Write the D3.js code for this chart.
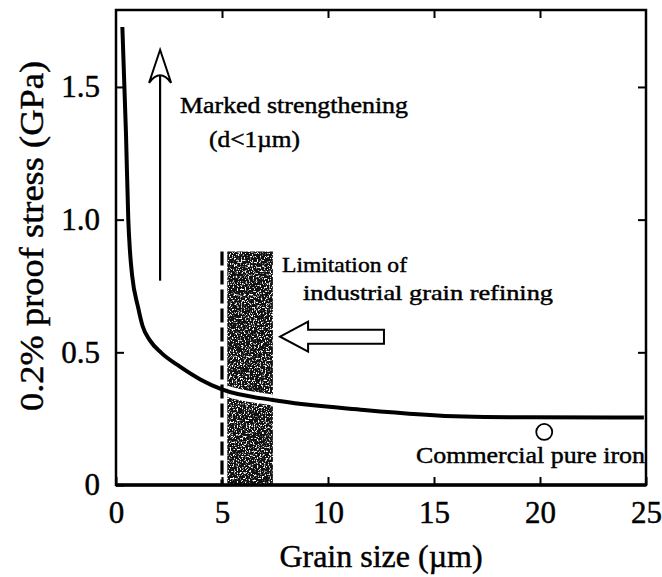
<!DOCTYPE html>
<html>
<head>
<meta charset="utf-8">
<script src="https://cdn.jsdelivr.net/npm/d3@7"></script>
<style>
  html, body { margin: 0; padding: 0; background: #fff; }
  svg { display: block; }
  svg text { font-family: "Liberation Serif", "Times New Roman", Times, serif; fill: #000; stroke: #000; stroke-width: 0.45px; }
</style>
</head>
<body>
<svg id="chart" width="662" height="577"></svg>
<script>
// Hall–Petch style curve: grain size (µm) vs 0.2% proof stress (GPa)
const grainSize = [0.30, 0.47, 0.58, 0.66, 0.76, 1.04, 1.25, 1.6, 2.15, 3.0, 4.0, 5.0, 7.4, 11.7, 16.4, 19.5, 24.9];
const proofStress = [1.726, 1.327, 1.0, 0.88, 0.79, 0.67, 0.60, 0.545, 0.497, 0.447, 0.397, 0.36, 0.32, 0.283, 0.258, 0.255, 0.254];

// Commercial pure iron data point
const ironPoint = [20.2, 0.20];

// Industrial grain refining limit
const limitSize = 5.0;
const refineBand = [5.25, 7.4];
const refineTop = 0.88;

// Axis ticks
const xTicks = [0, 5, 10, 15, 20, 25];
const yTicks = [0, 0.5, 1.0, 1.5];
const yTickLabels = ["0", "0.5", "1.0", "1.5"];

// Annotation arrows (data coordinates)
const upArrow = { d: 2.08, from: 0.77, to: 1.64 };
const leftArrow = { tip: 7.74, tail: 12.64, level: 0.559 };

const svg = d3.select("#chart");
const x = d3.scaleLinear().domain([0, 25]).range([116, 646]);
const y = d3.scaleLinear().domain([0, 1.79]).range([485, 10]);

const defs = svg.append("defs");
const speckle = defs.append("filter")
  .attr("id", "speckle")
  .attr("x", 0).attr("y", 0).attr("width", 1).attr("height", 1)
  .attr("color-interpolation-filters", "sRGB");
speckle.append("feFlood").attr("flood-color", "#101010").attr("result", "bg");
speckle.append("feTurbulence")
  .attr("type", "fractalNoise").attr("baseFrequency", "0.75 0.55")
  .attr("numOctaves", 2).attr("seed", 5).attr("result", "noise");
speckle.append("feColorMatrix").attr("in", "noise").attr("type", "matrix")
  .attr("values", "0 0 0 0 1  0 0 0 0 1  0 0 0 0 1  7 0 0 0 -3.75")
  .attr("result", "specks");
const merge = speckle.append("feMerge").attr("result", "mix");
merge.append("feMergeNode").attr("in", "bg");
merge.append("feMergeNode").attr("in", "specks");
speckle.append("feComposite").attr("in", "mix").attr("in2", "SourceAlpha").attr("operator", "in");

defs.append("clipPath").attr("id", "bandClip")
  .append("rect")
  .attr("x", x(refineBand[0])).attr("y", y(refineTop))
  .attr("width", x(refineBand[1]) - x(refineBand[0]))
  .attr("height", y(0) - y(refineTop));

// Speckled band
svg.append("rect")
  .attr("x", x(refineBand[0])).attr("y", y(refineTop))
  .attr("width", x(refineBand[1]) - x(refineBand[0]))
  .attr("height", y(0) - y(refineTop))
  .attr("fill", "#000")
  .attr("filter", "url(#speckle)");

// Dashed limit line
svg.append("line")
  .attr("x1", x(limitSize)).attr("x2", x(limitSize))
  .attr("y1", y(refineTop)).attr("y2", y(0))
  .attr("stroke", "#000").attr("stroke-width", 3.2)
  .attr("stroke-dasharray", "14,5");

// Curve
const pts = grainSize.map((d, i) => [d, proofStress[i]]);
const line = d3.line().x(d => x(d[0])).y(d => y(d[1])).curve(d3.curveMonotoneX);
svg.append("path").datum(pts)
  .attr("d", line).attr("fill", "none")
  .attr("stroke", "#fff").attr("stroke-width", 11)
  .attr("clip-path", "url(#bandClip)");
svg.append("path").datum(pts)
  .attr("d", line).attr("fill", "none")
  .attr("stroke", "#000").attr("stroke-width", 4)
  .attr("stroke-linejoin", "round");

// Commercial pure iron marker
svg.append("circle")
  .attr("cx", x(ironPoint[0])).attr("cy", y(ironPoint[1])).attr("r", 8)
  .attr("fill", "#fff").attr("stroke", "#000").attr("stroke-width", 1.8);

// Upward open arrow
const ax = x(upArrow.d), aTop = y(upArrow.to), aBot = y(upArrow.from);
svg.append("line")
  .attr("x1", ax).attr("x2", ax).attr("y1", aTop + 22).attr("y2", aBot)
  .attr("stroke", "#000").attr("stroke-width", 2.2);
svg.append("path")
  .attr("d", `M${ax},${aTop} L${ax + 11},${aTop + 33} Q${ax},${aTop + 18} ${ax - 11},${aTop + 33} Z`)
  .attr("fill", "#fff").attr("stroke", "#000").attr("stroke-width", 2)
  .attr("stroke-linejoin", "miter");

// Left block arrow
const lx = x(leftArrow.tip), lt = x(leftArrow.tail), ly = y(leftArrow.level);
svg.append("path")
  .attr("d", `M${lx},${ly} L${lx + 28},${ly - 15} L${lx + 28},${ly - 7} L${lt},${ly - 7} L${lt},${ly + 7} L${lx + 28},${ly + 7} L${lx + 28},${ly + 15} Z`)
  .attr("fill", "#fff").attr("stroke", "#000").attr("stroke-width", 2);

// Frame
svg.append("rect")
  .attr("x", x(0)).attr("y", y(1.79))
  .attr("width", x(25) - x(0)).attr("height", y(0) - y(1.79))
  .attr("fill", "none").attr("stroke", "#000").attr("stroke-width", 2.5);
svg.append("line")
  .attr("x1", x(0)).attr("x2", x(25)).attr("y1", y(0)).attr("y2", y(0))
  .attr("stroke", "#000").attr("stroke-width", 3.5);

// Axes with inward ticks
const styleAxis = g => {
  g.attr("font-family", null).attr("font-size", null);
  g.select(".domain").remove();
  g.selectAll(".tick line").attr("stroke", "#000").attr("stroke-width", 2);
  g.selectAll(".tick text").attr("font-size", 31).attr("fill", "#000");
};
svg.append("g").attr("transform", `translate(0,${y(0)})`)
  .call(d3.axisBottom(x).tickValues(xTicks).tickFormat(d3.format("d")).tickSize(-8).tickPadding(16))
  .call(styleAxis);
svg.append("g").attr("transform", `translate(0,${y(1.79)})`)
  .call(d3.axisTop(x).tickValues(xTicks.slice(1, -1)).tickFormat("").tickSize(-8))
  .call(styleAxis);
svg.append("g").attr("transform", `translate(${x(0)},0)`)
  .call(d3.axisLeft(y).tickValues(yTicks).tickFormat((d, i) => yTickLabels[i]).tickSize(-8).tickPadding(16))
  .call(styleAxis);
svg.append("g").attr("transform", `translate(${x(25)},0)`)
  .call(d3.axisRight(y).tickValues(yTicks.slice(1)).tickFormat("").tickSize(-8))
  .call(styleAxis);

// Axis titles
svg.append("text")
  .attr("x", (x(0) + x(25)) / 2).attr("y", 567)
  .attr("text-anchor", "middle").attr("font-size", 32)
  .text("Grain size (\u00b5m)");
svg.append("text")
  .attr("transform", `translate(43,236) rotate(-90)`)
  .attr("text-anchor", "middle").attr("font-size", 33)
  .attr("textLength", 350).attr("lengthAdjust", "spacingAndGlyphs")
  .text("0.2% proof stress (GPa)");

// Annotations
const note = (txt, x0, y0, size, len) =>
  svg.append("text").attr("x", x0).attr("y", y0).attr("font-size", size)
    .attr("textLength", len).attr("lengthAdjust", "spacingAndGlyphs").text(txt);
note("Marked strengthening", 180, 113, 23, 228);
note("(d<1\u00b5m)", 209, 147, 23, 91);
note("Limitation of", 282, 272, 22, 125);
note("industrial grain refining", 303, 300, 22, 250);
note("Commercial pure iron", 416, 463, 24, 229);
</script>
</body>
</html>
